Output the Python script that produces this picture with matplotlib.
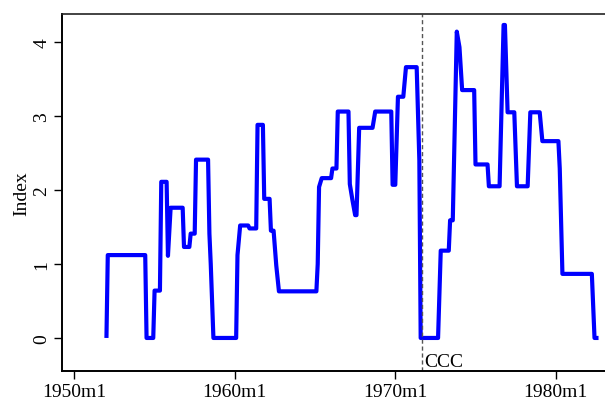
import matplotlib
matplotlib.use("Agg")
import matplotlib.pyplot as plt

plt.rcParams['font.family'] = ['Liberation Serif', 'DejaVu Serif']

# change points of the monthly index (date, value)
dates = ["1952m1", "1952m2", "1954m6", "1954m7", "1954m12", "1955m1", "1955m5", "1955m6",
         "1955m10", "1955m11", "1956m1", "1956m10", "1956m11", "1957m3", "1957m4", "1957m7",
         "1957m8", "1958m5", "1958m6", "1958m7", "1958m9", "1960m2", "1960m3", "1960m5",
         "1960m11", "1960m12", "1961m5", "1961m6", "1961m10", "1961m11", "1962m3", "1962m4",
         "1962m6", "1962m8", "1962m10", "1965m2", "1965m3", "1965m4", "1965m6", "1966m1",
         "1966m2", "1966m5", "1966m6", "1967m2", "1967m3", "1967m5", "1967m7", "1967m8",
         "1967m10", "1968m8", "1968m10", "1969m10", "1969m11", "1970m1", "1970m3", "1970m7",
         "1970m9", "1971m5", "1971m7", "1971m8", "1972m9", "1972m11", "1973m5", "1973m6",
         "1973m8", "1973m11", "1974m1", "1974m3", "1974m12", "1975m1", "1975m10", "1975m11",
         "1976m7", "1976m10", "1976m11", "1977m1", "1977m6", "1977m8", "1978m4", "1978m6",
         "1979m1", "1979m3", "1980m3", "1980m4", "1980m6", "1982m4", "1982m6", "1982m9"]
values = [0.0, 1.12, 1.12, 0.0, 0.0, 0.64, 0.64, 2.11,
          2.11, 1.11, 1.76, 1.76, 1.23, 1.23, 1.41, 1.41,
          2.41, 2.41, 1.41, 1.0, 0.0, 0.0, 1.12, 1.52,
          1.52, 1.48, 1.48, 2.88, 2.88, 1.88, 1.88, 1.45,
          1.45, 0.98, 0.63, 0.63, 1.0, 2.04, 2.16, 2.16,
          2.29, 2.29, 3.06, 3.06, 2.08, 1.86, 1.66, 1.66,
          2.84, 2.84, 3.06, 3.06, 2.07, 2.07, 3.26, 3.26,
          3.66, 3.66, 2.40, 0.0, 0.0, 1.18, 1.18, 1.59,
          1.59, 4.14, 3.93, 3.35, 3.35, 2.345, 2.345, 2.05,
          2.05, 4.23, 4.23, 3.05, 3.05, 2.05, 2.05, 3.05,
          3.05, 2.66, 2.66, 2.29, 0.866, 0.866, 0.0, 0.0]

xtick_labels = ["1950m1", "1960m1", "1970m1", "1980m1"]
ytick_values = [0, 1, 2, 3, 4]
event_date = "1971m9"
event_label = "CCC"


def to_year(s):
    y, m = s.split("m")
    return int(y) + (int(m) - 1) / 12.0


x = [to_year(d) for d in dates]

fig = plt.figure(figsize=(6.05, 4.02), dpi=100)
ax = fig.add_axes([0.103, 0.074, 0.897, 0.889])

ax.plot(x, values, color="#0000FF", lw=3.0, solid_joinstyle="round", solid_capstyle="butt")

ex = to_year(event_date)
ax.axvline(ex, color="#555555", lw=1.0, ls=(0, (3, 2)))
ax.text(ex + 0.15, -0.32, event_label, fontsize=14, va="center", ha="left")

ax.set_xlim(1949.25, 1983.07)
ax.set_ylim(-0.45, 4.38)
ax.set_xticks([to_year(t) for t in xtick_labels])
ax.set_xticklabels(xtick_labels, fontsize=14)
ax.set_yticks(ytick_values)
ax.set_yticklabels([str(v) for v in ytick_values], fontsize=14, rotation=90, va="center")
ax.tick_params(direction="out", length=5.5, width=1.0, pad=3)
ax.set_ylabel("Index", fontsize=14, labelpad=2)

ax.spines["right"].set_visible(False)
for s in ["left", "bottom"]:
    ax.spines[s].set_linewidth(1.4)
ax.spines["top"].set_linewidth(1.2)
ax.spines["top"].set_color("#222222")

fig.savefig("out.png", dpi=100)
